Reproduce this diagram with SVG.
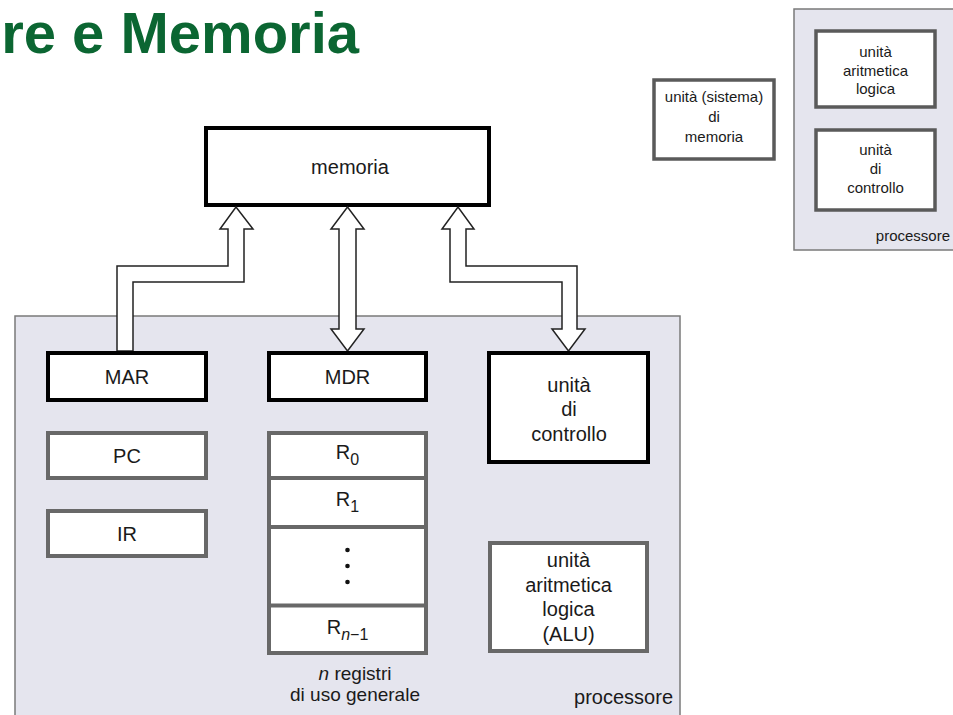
<svg xmlns="http://www.w3.org/2000/svg" width="953" height="715" viewBox="0 0 953 715">
<style>
text{font-family:"Liberation Sans",Arial,sans-serif;fill:#1a1a1a}
.t{font-size:20px;text-anchor:middle}
.s{font-size:15px;text-anchor:middle}
.blk{fill:#fff;stroke:#000;stroke-width:4}
.gry{fill:#fff;stroke:#686868;stroke-width:4}
.sm{fill:#fff;stroke:#5a5a5a;stroke-width:3.5}
.proc{fill:#e5e5ee;stroke:#7a7a7a;stroke-width:1.5}
.bus{fill:#fff;stroke:#222;stroke-width:1.5;stroke-linejoin:miter}
.sub{font-size:16px}
</style>
<rect width="953" height="715" fill="#fff"/>
<text x="359" y="53" style="font-size:58px;font-weight:bold;fill:#0b6632;text-anchor:end">re e Memoria</text>

<g id="legend">
  <g id="legend-processore">
    <rect class="proc" x="794" y="9" width="175" height="241"/>
    <text x="950" y="241" style="font-size:15px;text-anchor:end">processore</text>
  </g>
  <g id="legend-memoria">
    <rect class="sm" x="654" y="80" width="120" height="79"/>
    <text class="s" x="714" y="102">unità (sistema)</text>
    <text class="s" x="714" y="122">di</text>
    <text class="s" x="714" y="142">memoria</text>
  </g>
  <g id="legend-alu">
    <rect class="sm" x="816" y="31" width="119" height="76"/>
    <text class="s" x="875.5" y="57">unità</text>
    <text class="s" x="875.5" y="76">aritmetica</text>
    <text class="s" x="875.5" y="94">logica</text>
  </g>
  <g id="legend-controllo">
    <rect class="sm" x="816" y="130" width="119" height="80"/>
    <text class="s" x="875.5" y="155">unità</text>
    <text class="s" x="875.5" y="174">di</text>
    <text class="s" x="875.5" y="193">controllo</text>
  </g>
</g>

<g id="processore">
  <rect class="proc" x="15" y="316" width="665" height="420"/>
  <text x="673" y="704" style="font-size:20px;text-anchor:end">processore</text>
</g>

<g id="memoria">
  <rect class="blk" x="206" y="128" width="283" height="77"/>
  <text class="t" x="350" y="174">memoria</text>
</g>

<g id="connectors">
  <polygon class="bus" points="117,351 117,266 228,266 228,229 220,229 236,207 253,229 244,229 244,282 133,282 133,351"/>
  <polygon class="bus" points="339,229 331,229 347.5,207 364,229 356,229 356,329 364,329 347.5,351 331,329 339,329"/>
  <polygon class="bus" points="450,229 442,229 458,207 474,229 466,229 466,266 577,266 577,329 585,329 568.5,351 552,329 562,329 562,282 450,282"/>
</g>

<g id="mar">
  <rect class="blk" x="48" y="353" width="158" height="47"/>
  <text class="t" x="127" y="384">MAR</text>
</g>
<g id="mdr">
  <rect class="blk" x="269" y="353" width="157" height="47"/>
  <text class="t" x="347.5" y="384">MDR</text>
</g>
<g id="unita-controllo">
  <rect class="blk" x="489" y="353" width="159" height="109"/>
  <text class="t" x="569" y="392">unità</text>
  <text class="t" x="569" y="416">di</text>
  <text class="t" x="569" y="441">controllo</text>
</g>
<g id="pc">
  <rect class="gry" x="48" y="433" width="158" height="45"/>
  <text class="t" x="127" y="463">PC</text>
</g>
<g id="ir">
  <rect class="gry" x="48" y="511" width="158" height="45"/>
  <text class="t" x="127" y="541">IR</text>
</g>
<g id="registri">
  <rect class="gry" x="269" y="433" width="157" height="220"/>
  <line x1="269" y1="478" x2="426" y2="478" stroke="#686868" stroke-width="4"/>
  <line x1="269" y1="527" x2="426" y2="527" stroke="#686868" stroke-width="4"/>
  <line x1="269" y1="605.5" x2="426" y2="605.5" stroke="#686868" stroke-width="4"/>
  <text class="t" x="347.5" y="459">R<tspan class="sub" dy="6">0</tspan></text>
  <text class="t" x="347.5" y="506">R<tspan class="sub" dy="6">1</tspan></text>
  <circle cx="347.5" cy="550" r="2.3" fill="#111"/>
  <circle cx="347.5" cy="566" r="2.3" fill="#111"/>
  <circle cx="347.5" cy="582" r="2.3" fill="#111"/>
  <text class="t" x="347.5" y="634">R<tspan class="sub" dy="6" font-style="italic">n</tspan><tspan class="sub">−1</tspan></text>
  <text class="t" x="355" y="680" style="font-size:19px"><tspan font-style="italic">n</tspan> registri</text>
  <text class="t" x="355" y="701" style="font-size:19px">di uso generale</text>
</g>
<g id="alu">
  <rect class="gry" x="490" y="543" width="157" height="108"/>
  <text class="t" x="568.5" y="567">unità</text>
  <text class="t" x="568.5" y="591.5">aritmetica</text>
  <text class="t" x="568.5" y="616">logica</text>
  <text class="t" x="568.5" y="640.5">(ALU)</text>
</g>
</svg>
